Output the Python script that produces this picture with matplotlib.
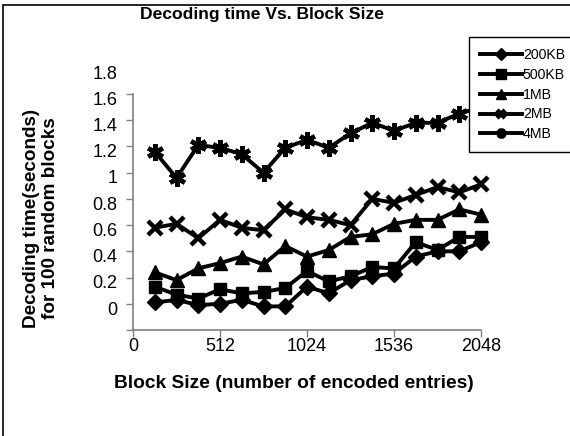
import numpy as np
import matplotlib
matplotlib.use("Agg")
import matplotlib.pyplot as plt
from matplotlib.patches import Rectangle
from matplotlib.transforms import ScaledTranslation, blended_transform_factory

plt.rcParams['font.family'] = ['Liberation Sans', 'DejaVu Sans']

# block sizes (number of encoded entries)
block_size = [128, 256, 384, 512, 640, 768, 896, 1024,
              1152, 1280, 1408, 1536, 1664, 1792, 1920, 2048]

# decoding time for 100 random blocks, per file size
t_200kb = [0.21, 0.23, 0.19, 0.20, 0.23, 0.18, 0.18, 0.33,
           0.28, 0.38, 0.41, 0.43, 0.56, 0.60, 0.60, 0.67]
t_500kb = [0.33, 0.27, 0.24, 0.31, 0.28, 0.29, 0.32, 0.45,
           0.37, 0.41, 0.48, 0.47, 0.67, 0.61, 0.71, 0.71]
t_1mb = [0.44, 0.38, 0.47, 0.51, 0.56, 0.50, 0.64, 0.56,
         0.61, 0.71, 0.73, 0.81, 0.84, 0.84, 0.92, 0.88]
t_2mb = [0.78, 0.81, 0.70, 0.84, 0.78, 0.76, 0.92, 0.86,
         0.84, 0.80, 1.00, 0.97, 1.03, 1.09, 1.05, 1.11]
t_4mb = [1.36, 1.16, 1.41, 1.39, 1.34, 1.20, 1.39, 1.45,
         1.39, 1.50, 1.58, 1.52, 1.58, 1.58, 1.65, 1.70]

labels = ['200KB', '500KB', '1MB', '2MB', '4MB']
x_ticks = [0, 512, 1024, 1536, 2048]
y_ticks = [0, 0.2, 0.4, 0.6, 0.8, 1.0, 1.2, 1.4, 1.6, 1.8]
y_tick_labels = ['0', '0.2', '0.4', '0.6', '0.8', '1', '1.2', '1.4', '1.6', '1.8']

fig = plt.figure(figsize=(5.7, 4.36), dpi=100)
ax = fig.add_axes([133 / 570, 1 - 330 / 436, 348 / 570, 236 / 436])

series = [t_200kb, t_500kb, t_1mb, t_2mb, t_4mb]
markers = ['D', 's', '^', 'x', (6, 2, 0)]
msizes = [8, 9, 10, 10, 12]
lines = []
for y, lab, m, ms in zip(series, labels, markers, msizes):
    ln, = ax.plot(block_size, y, color='black', lw=2.8, marker=m, ms=ms,
                  mew=3.2 if m in ('x', (6, 2, 0)) else 1, mfc='black',
                  mec='black', label=lab, clip_on=False, zorder=3)
    lines.append(ln)

ax.set_xlim(0, 2048)
ax.set_ylim(0, 1.8)
ax.set_xticks(x_ticks)
ax.set_xticklabels([str(v) for v in x_ticks], fontsize=13)
ax.set_yticks(y_ticks)
ax.set_yticklabels([])
for s in ['top', 'right']:
    ax.spines[s].set_visible(False)
for s in ['left', 'bottom']:
    ax.spines[s].set_color('#808080')
    ax.spines[s].set_linewidth(1.2)
ax.tick_params(axis='both', color='#808080', length=5, width=1, pad=1)

# y tick labels, drawn a little above their ticks
ytrans = blended_transform_factory(ax.transAxes, ax.transData) + \
    ScaledTranslation(0, 0.2, fig.dpi_scale_trans)
for v, s in zip(y_ticks, y_tick_labels):
    ax.text(-0.045, v, s, transform=ytrans, ha='right', va='center', fontsize=13)

fig.text(262 / 570, 1 - 14.5 / 436, 'Decoding time Vs. Block Size',
         ha='center', va='center', fontsize=12.6, fontweight='bold')
fig.text(294 / 570, 1 - 383 / 436, 'Block Size (number of encoded entries)',
         ha='center', va='center', fontsize=13.8, fontweight='bold')
fig.text(41 / 570, 1 - 218 / 436, 'Decoding time(seconds)\nfor 100 random blocks',
         ha='center', va='center', rotation=90, fontsize=13.6, fontweight='bold',
         linespacing=1.15)

leg = fig.legend(handles=lines, loc='upper left',
                 bbox_to_anchor=(469 / 570, 1 - 37 / 436), fontsize=10.2,
                 frameon=True, fancybox=False, edgecolor='black', framealpha=1,
                 handlelength=3.0, handletextpad=0.05, labelspacing=0.42,
                 borderpad=0.75, borderaxespad=0)
leg.get_frame().set_linewidth(1)
leg.set_zorder(5)
for h, ms in zip(leg.legend_handles, [6, 7, 7, 6, 7]):
    h.set_markersize(ms)

# outer frame of the figure
fig.add_artist(Rectangle((3 / 570, -0.1), 1.2, 1 - 5 / 436 + 0.1,
                         transform=fig.transFigure, fill=False,
                         edgecolor='black', lw=1.2))

fig.savefig('out.png', dpi=100)
